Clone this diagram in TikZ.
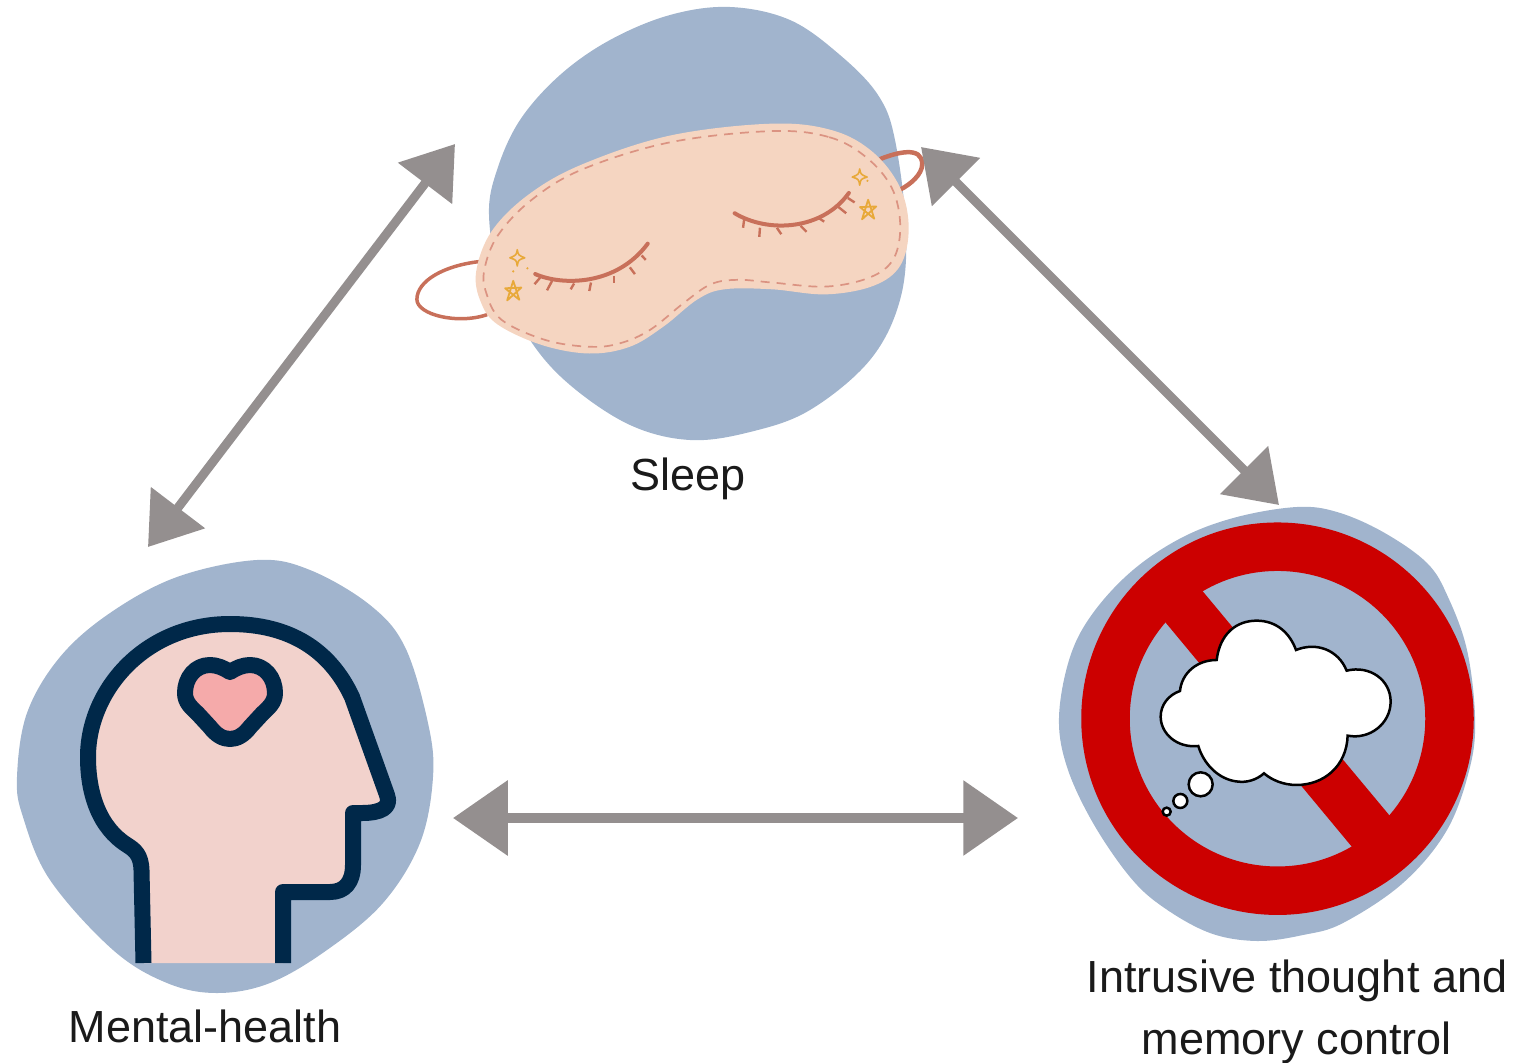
\documentclass[tikz,border=0pt]{standalone}
\usepackage{fontspec}
\setmainfont{Liberation Sans}
\usetikzlibrary{arrows.meta}
\definecolor{blobblue}{HTML}{A1B4CD}
\definecolor{arrowgrey}{HTML}{948F8F}
\definecolor{maskskin}{HTML}{F5D5C1}
\definecolor{maskline}{HTML}{C8705A}
\definecolor{maskseam}{HTML}{DB9382}
\definecolor{sparkle}{HTML}{E8A93A}
\definecolor{headskin}{HTML}{F2D2CC}
\definecolor{headline}{HTML}{002849}
\definecolor{heartpink}{HTML}{F5AAAA}
\definecolor{nored}{HTML}{CC0000}
\definecolor{labelink}{HTML}{1A1A1A}
\tikzset{
    blob/.style={fill=blobblue},
    biarrow/.style 2 args={arrowgrey, line width=#1, {Triangle[length=#2*0.75, width=#2]}-{Triangle[length=#2*0.75, width=#2]}},
    labeltext/.style={align=center, text=labelink, font=\fontsize{45}{62}\selectfont, inner sep=0pt},
    zoomed/.style={x=0.3333pt, y=-0.3333pt},
}

\begin{document}
\begin{tikzpicture}[x=1pt, y=-1pt]
    \useasboundingbox (0,0) rectangle (1530,1062);

    % Sleep
    \begin{scope}
        \fill[blob] plot[smooth cycle, tension=0.6] coordinates {(730,7) (790,20) (840,55) (878,95) (895,140) (906,230) (900,300) (870,360) (810,410) (750,432) (690,440) (630,425) (570,385) (530,340) (500,280) (489,215) (497,170) (520,120) (560,75) (610,40) (670,15)};
        % Mask in coordinates of its own
        \begin{scope}[shift={(400,100)}, x=0.338pt, y=-0.338pt]
            % Straps
            \draw[maskline, line width=3.5pt] (235,478) .. controls (130,490) and (50,535) .. (50,590) .. controls (50,635) and (170,665) .. (258,635);
            \draw[maskline, line width=4.5pt] (1420,175) .. controls (1470,155) and (1545,135) .. (1545,190) .. controls (1545,220) and (1510,250) .. (1480,265);
            % Body and seam
            \fill[maskskin] plot[smooth cycle, tension=0.6] coordinates {(1100,70) (1280,90) (1400,155) (1480,260) (1505,380) (1480,490) (1400,550) (1260,575) (1100,560) (960,560) (880,590) (780,670) (680,730) (560,750) (420,725) (290,665) (240,600) (225,510) (270,390) (380,280) (540,190) (800,105)};
            \draw[maskseam, line width=1.7pt, dash pattern=on 9pt off 7pt] plot[smooth cycle, tension=0.6] coordinates {(1100,92) (1270,110) (1380,170) (1455,260) (1480,370) (1460,470) (1390,525) (1260,552) (1100,540) (1000,532) (920,545) (840,600) (740,680) (650,720) (560,730) (430,710) (300,650) (255,570) (250,500) (290,400) (390,295) (540,205) (800,125)};
            % Eyelids
            \draw[maskline, line width=4pt, line cap=round] (400,515) .. controls (480,550) and (640,550) .. (733,425);
            \draw[maskline, line width=4pt, line cap=round] (990,335) .. controls (1090,395) and (1250,385) .. (1328,275);
            % Lashes
            \foreach \xa/\ya/\xb/\yb in {415/525/398/545, 450/535/435/563, 515/543/505/560, 565/540/560/565, 633/520/633/540, 680/495/695/515, 715/460/727/473,
                1018/355/1015/378, 1065/378/1063/405, 1115/378/1128/397, 1185/372/1203/390, 1240/350/1255/360, 1295/315/1320/335, 1325/290/1345/303} {
                \draw[maskline, line width=2.4pt] (\xa,\ya) -- (\xb,\yb);
            }
            % Sparkles
            \foreach \cx/\cy in {347/467, 1360/228} {
                \draw[sparkle, line width=1.6pt, line join=round] (\cx,\cy-24) .. controls (\cx+3,\cy-8) .. (\cx+22,\cy) .. controls (\cx+3,\cy+6) .. (\cx,\cy+24) .. controls (\cx-3,\cy+6) .. (\cx-22,\cy) .. controls (\cx-3,\cy-8) .. cycle;
            }
            \foreach \cx/\cy in {335/565, 1385/325} {
                \draw[sparkle, line width=1.8pt, line join=round] (\cx,\cy-30) -- (\cx+18,\cy+26) -- (\cx-24,\cy-8) -- (\cx+24,\cy-10) -- (\cx-18,\cy+28) -- cycle;
            }
            \foreach \cx/\cy in {377/498, 335/507, 1383/239} {
                \fill[sparkle] (\cx,\cy) circle (1.2pt);
            }
        \end{scope}
        \node[labeltext] (sleep) at (688,479) {Sleep};
    \end{scope}

    % Mental-health
    \begin{scope}
        \fill[blob] plot[smooth cycle, tension=0.6] coordinates {(257,560) (310,570) (370,605) (405,647) (428,723) (433,777) (420,843) (383,903) (327,950) (270,983) (217,993) (167,983) (113,950) (50,880) (23,817) (17,777) (27,713) (60,657) (110,613) (177,577)};
        % Head
        \filldraw[fill=headskin, draw=headline, line width=16pt, line join=round] (143.5,963) -- (141.5,870) .. controls (141,855) and (135,850) .. (127,845) .. controls (100,828) and (88,795) .. (88,757) .. controls (88,690) and (145,624) .. (230,624) .. controls (290,624) and (330,650) .. (352,697) -- (387,795) .. controls (392,808) and (380,813) .. (362,813) -- (353,813) -- (353,865) .. controls (353,882) and (345,892) .. (330,892) -- (283,892) -- (283,963);
        % Heart
        \filldraw[fill=heartpink, draw=headline, line width=16pt, line join=round] (230,672) .. controls (236,668) and (243,665) .. (250,665) .. controls (265,665) and (275,678) .. (275,693) .. controls (275,703) and (268,708) .. (262,714) -- (250,727) .. controls (244,735) and (237,739) .. (230,739) .. controls (223,739) and (216,735) .. (210,727) -- (198,714) .. controls (192,708) and (185,703) .. (185,693) .. controls (185,678) and (195,665) .. (210,665) .. controls (217,665) and (224,668) .. (230,672) -- cycle;
        \node[labeltext] (mental) at (205,1026) {Mental-health};
    \end{scope}

    % Intrusive thought
    \begin{scope}
        \fill[blob] plot[smooth cycle, tension=0.6] coordinates {(1297,507) (1337,512) (1383,532) (1427,563) (1448,597) (1467,650) (1475,717) (1470,767) (1447,830) (1403,883) (1343,923) (1303,935) (1257,941) (1210,933) (1163,907) (1130,877) (1093,823) (1067,767) (1059,717) (1070,657) (1093,613) (1133,570) (1183,537) (1237,517)};
        % Forbidden sign
        \draw[nored, line width=48.5pt] (1277.5,718.7) circle (172pt);
        \fill[nored] (1158.5,614) -- (1195.2,582.3) -- (1395.5,822.7) -- (1358.2,854.4) -- cycle;
        % Cloud in coordinates of its own
        \begin{scope}[shift={(1050,500)}, zoomed]
            \filldraw[fill=white, draw=black, line width=2.5pt] (500,480) .. controls (510,400) and (560,362) .. (620,362) .. controls (680,362) and (720,400) .. (738,450) .. controls (800,425) and (865,450) .. (890,512) .. controls (960,495) and (1022,540) .. (1022,605) .. controls (1022,670) and (960,720) .. (893,707) .. controls (890,800) and (820,855) .. (740,855) .. controls (700,855) and (665,840) .. (642,820) .. controls (620,840) and (590,848) .. (565,845) .. controls (505,840) and (460,790) .. (445,738) .. controls (380,745) and (332,700) .. (332,650) .. controls (332,615) and (355,585) .. (390,573) .. controls (395,520) and (440,480) .. (500,480) -- cycle;
            \foreach \cx/\cy/\r in {452/853/12, 391/903/7, 350/935/4} {
                \filldraw[fill=white, draw=black, line width=2.5pt] (\cx,\cy) circle (\r pt);
            }
        \end{scope}
        \node[labeltext] (intrusive) at (1297,1012) {Intrusive thought and\\memory control};
    \end{scope}

    % Arrows between the three
    \coordinate (mentalUp) at (148,547);
    \coordinate (sleepLeft) at (455,144);
    \coordinate (sleepRight) at (921,147);
    \coordinate (intrusiveUp) at (1279,505);
    \coordinate (mentalRight) at (453,818);
    \coordinate (intrusiveLeft) at (1018,818);
    \draw[biarrow={9pt}{66pt}] (mentalUp) -- (sleepLeft);
    \draw[biarrow={9pt}{66pt}] (sleepRight) -- (intrusiveUp);
    \draw[biarrow={10pt}{73pt}] (mentalRight) -- (intrusiveLeft);
\end{tikzpicture}
\end{document}
